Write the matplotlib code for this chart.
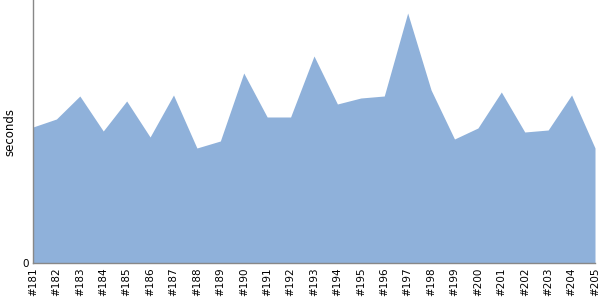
import matplotlib
matplotlib.use("Agg")
import matplotlib.pyplot as plt

builds = ["#181", "#182", "#183", "#184", "#185", "#186", "#187", "#188", "#189",
          "#190", "#191", "#192", "#193", "#194", "#195", "#196", "#197", "#198",
          "#199", "#200", "#201", "#202", "#203", "#204", "#205"]
seconds = [136, 144, 167, 132, 162, 126, 168, 115, 122, 190, 146, 146, 207,
           159, 165, 167, 250, 173, 124, 135, 171, 131, 133, 168, 115]

fig = plt.figure(figsize=(6, 3), dpi=100)
ax = fig.add_axes([33 / 600, 37 / 300, 562 / 600, 263 / 300])
x = list(range(len(builds)))
ax.fill_between(x, seconds, 0, color="#8FB1DA", linewidth=0)
ax.set_xlim(0, len(builds) - 1)
ax.set_ylim(0, 263)
ax.set_xticks(x)
ax.set_xticklabels(builds, rotation=90, fontsize=7.5)
ax.set_yticks([0])
ax.set_yticklabels(["0"], fontsize=7.5)
ax.tick_params(length=0, pad=3)
ax.set_ylabel("seconds", fontsize=8.5)
ax.yaxis.set_label_coords(-17 / 562, 0.5)
for s in ["top", "right"]:
    ax.spines[s].set_visible(False)
for s in ["left", "bottom"]:
    ax.spines[s].set_color("#888888")
    ax.spines[s].set_linewidth(1)
fig.savefig("out.png", dpi=100)
